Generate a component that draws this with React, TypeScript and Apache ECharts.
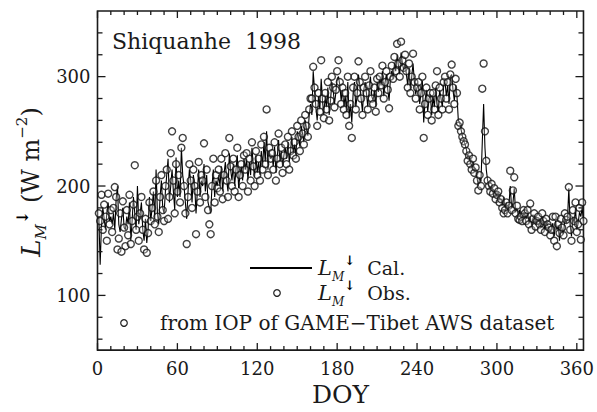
import React, { useEffect, useRef } from "react";
import * as echarts from "echarts";

// Observed downward longwave radiation (W m-2), DOY 1..365
const obsValues: number[] = [
  175,168,192,160,183,172,150,193,165,178,
  158,180,199,190,142,152,175,140,186,162,
  145,178,155,192,147,168,183,219,160,172,
  150,175,190,160,142,170,139,157,185,168,
  180,195,165,205,172,158,190,210,178,168,
  200,215,170,190,230,250,205,175,220,195,
  210,185,235,244,200,175,147,190,220,205,
  180,215,200,156,195,222,185,210,205,239,
  190,215,178,165,156,200,225,185,210,198,
  215,195,225,188,210,230,205,190,244,218,
  200,225,195,215,235,190,210,220,200,228,
  215,230,195,225,205,240,218,200,232,210,
  225,205,238,215,245,220,270,210,235,225,
  230,215,240,205,225,248,220,235,212,228,
  238,220,245,215,232,250,228,240,225,255,
  245,232,260,248,238,265,255,245,270,280,
  280,309,290,275,255,285,268,315,280,262,
  285,270,295,260,278,300,290,272,288,305,
  315,295,275,290,270,285,265,300,255,275,
  244,290,300,270,285,314,295,280,265,290,
  300,285,270,292,305,280,275,290,268,298,
  285,300,292,310,280,295,305,288,271,300,
  310,298,318,305,330,312,300,332,315,308,
  320,305,290,312,285,300,321,295,280,290,
  295,270,285,300,244,275,290,265,280,285,
  260,285,270,292,305,265,290,280,270,295,
  300,280,295,270,302,311,290,275,298,285,
  255,258,250,245,241,238,232,223,228,220,
  215,225,212,217,205,196,210,200,289,312,
  250,223,205,200,195,202,193,198,188,192,
  195,185,188,180,175,178,185,175,182,214,
  178,196,208,175,182,170,169,172,168,178,
  175,168,178,165,184,160,170,175,163,168,
  172,165,160,175,168,158,170,165,162,155,
  160,172,150,172,145,165,157,170,162,155,
  175,169,172,199,160,150,178,168,185,158,
  165,180,151,185,168,
];

// Calculated downward longwave radiation (W m-2), DOY 1..365
const calValues: number[] = [
  172,128,165,180,170,160,175,185,168,172,
  165,175,160,188,200,165,158,170,180,162,
  160,172,165,185,150,168,190,175,160,200,
  165,175,185,160,150,170,148,160,190,168,
  180,195,170,215,175,165,190,205,180,175,
  195,210,225,185,200,215,195,178,226,190,
  205,190,235,210,200,185,170,195,215,205,
  185,210,200,175,195,215,190,205,200,220,
  195,210,185,180,175,200,215,190,205,200,
  210,200,218,195,210,222,205,195,230,215,
  205,220,200,215,228,198,210,218,205,225,
  215,225,205,222,210,235,218,208,228,212,
  222,210,232,218,240,222,250,215,232,225,
  228,218,236,212,226,242,222,232,218,228,
  235,225,240,222,232,245,230,238,228,250,
  244,236,255,248,240,260,252,246,265,275,
  265,305,288,272,260,282,270,298,278,265,
  282,272,290,265,278,295,288,275,285,298,
  300,292,278,288,272,283,268,295,262,275,
  258,285,295,272,283,302,292,280,268,288,
  295,285,272,290,300,282,278,288,272,295,
  286,298,292,305,282,295,302,288,278,298,
  305,298,312,305,320,310,302,322,312,306,
  312,302,292,308,288,300,312,295,284,290,
  292,275,285,296,258,278,288,268,280,284,
  265,282,272,290,275,268,288,280,272,292,
  296,282,292,275,300,302,288,278,292,282,
  260,258,252,246,242,238,234,226,228,222,
  218,222,214,216,208,200,208,204,240,275,
  235,215,205,200,196,200,194,196,190,192,
  195,188,188,182,190,180,185,178,182,200,
  180,184,198,176,180,172,178,172,170,176,
  174,170,176,166,172,164,170,172,165,168,
  170,166,162,172,166,160,168,164,162,158,
  162,166,154,168,160,164,150,166,160,156,
  170,166,170,198,164,154,172,166,180,160,
  166,176,172,180,168,
];

const xLabelValues = [0, 60, 120, 180, 240, 300, 360];
const yLabelValues = [100, 200, 300];
const xTickDays = [0,10,20,30,40,50,60,70,80,90,100,110,120,130,140,150,160,170,180,190,200,210,220,230,240,250,260,270,280,290,300,310,320,330,340,350,360];
const yTickValues = [60,80,100,120,140,160,180,200,220,240,260,280,300,320,340];

const X_MIN = 0;
const X_MAX = 365;
const Y_MIN = 50;
const Y_MAX = 360;

const FONT = "'DejaVu Serif', 'Liberation Serif', serif";
const INK = "#1a1a1a";

export default function App() {
  const ref = useRef<HTMLDivElement>(null);

  useEffect(() => {
    document.body.style.margin = "0";
    if (!ref.current) return;
    const chart = echarts.init(ref.current, null, { renderer: "svg" });

    const obsData = obsValues.map((v, i) => [i + 1, v]);
    const calData = calValues.map((v, i) => [i + 1, v]);

    const richBase = (size: number) => {
      const sub = Math.round(size * 0.62);
      const sup = Math.round(size * 0.66);
      return {
        L: { fontFamily: FONT, fontStyle: "italic", fontSize: size + 2, lineHeight: size + 10, fill: INK, color: INK },
        sub: { fontFamily: FONT, fontStyle: "italic", fontSize: sub, verticalAlign: "bottom", lineHeight: sub, fill: INK, color: INK },
        sup: { fontFamily: FONT, fontWeight: "bold", fontSize: sup, verticalAlign: "top", lineHeight: sup, fill: "#000", color: "#000" },
        n: { fontFamily: FONT, fontSize: size, lineHeight: size + 10, fill: INK, color: INK },
        sup2: { fontFamily: FONT, fontSize: sub, verticalAlign: "top", lineHeight: sub, fill: INK, color: INK },
      };
    };

    const option: any = {
      animation: false,
      backgroundColor: "#ffffff",
      grid: {
        left: 97.5,
        right: 12,
        top: 11,
        bottom: 59,
        containLabel: false,
        show: true,
        borderColor: INK,
        borderWidth: 1.6,
        backgroundColor: "transparent",
      },
      xAxis: {
        type: "value",
        min: X_MIN,
        max: X_MAX,
        interval: 60,
        name: "DOY",
        nameLocation: "middle",
        nameGap: 29,
        nameTextStyle: { fontFamily: FONT, fontSize: 25, color: INK },
        axisLine: { show: false },
        axisTick: { show: false },
        splitLine: { show: false },
        axisLabel: {
          margin: 9,
          fontFamily: FONT,
          fontSize: 18,
          color: INK,
          formatter: (v: number) => (xLabelValues.indexOf(v) >= 0 ? String(v) : ""),
        },
      },
      yAxis: {
        type: "value",
        min: Y_MIN,
        max: Y_MAX,
        interval: 50,
        axisLine: { show: false },
        axisTick: { show: false },
        splitLine: { show: false },
        axisLabel: {
          margin: 7,
          fontFamily: FONT,
          fontSize: 18,
          color: INK,
          formatter: (v: number) => (yLabelValues.indexOf(v) >= 0 ? String(v) : ""),
        },
      },
      series: [
        {
          type: "line",
          name: "Cal",
          data: calData,
          showSymbol: false,
          lineStyle: { color: "#000", width: 1.1 },
          z: 2,
          silent: true,
        },
        {
          type: "scatter",
          name: "Obs",
          data: obsData,
          symbol: "circle",
          symbolSize: 7,
          itemStyle: { color: "rgba(255,255,255,0.35)", borderColor: "#111", borderWidth: 1.4 },
          z: 3,
          silent: true,
        },
        {
          type: "custom",
          name: "ticks",
          data: [[0, 100]],
          silent: true,
          clip: false,
          z: 5,
          renderItem: (params: any, api: any) => {
            const cs = params.coordSys;
            const top = cs.y;
            const bottom = cs.y + cs.height;
            const left = cs.x;
            const right = cs.x + cs.width;
            const children: any[] = [];
            const st = { stroke: INK, lineWidth: 1.3 };
            xTickDays.forEach((d) => {
              const px = api.coord([d, Y_MIN])[0];
              const len = d % 60 === 0 ? 7 : 4;
              children.push({ type: "line", shape: { x1: px, y1: bottom, x2: px, y2: bottom - len }, style: st });
              children.push({ type: "line", shape: { x1: px, y1: top, x2: px, y2: top + len }, style: st });
            });
            yTickValues.forEach((v) => {
              const py = api.coord([X_MIN, v])[1];
              const len = v % 100 === 0 ? 8 : 5;
              children.push({ type: "line", shape: { x1: left, y1: py, x2: left + len, y2: py }, style: st });
              children.push({ type: "line", shape: { x1: right, y1: py, x2: right - len, y2: py }, style: st });
            });
            return { type: "group", children };
          },
        },
      ],
      graphic: [
        {
          type: "text",
          x: 112,
          y: 41,
          style: {
            text: "Shiquanhe  1998",
            font: `22px ${FONT}`,
            fill: INK,
            textAlign: "left",
            textVerticalAlign: "middle",
          },
        },
        {
          type: "text",
          x: 31,
          y: 182,
          rotation: Math.PI / 2,
          style: {
            text: "{L|L}{sub|M}{sup|↓}{n| (W m}{sup2|−2}{n|)}",
            rich: richBase(24),
            fill: INK,
            textAlign: "center",
            textVerticalAlign: "middle",
          },
        },
        {
          type: "line",
          shape: { x1: 250, y1: 268, x2: 312, y2: 268 },
          style: { stroke: "#000", lineWidth: 2 },
        },
        {
          type: "text",
          x: 318,
          y: 268,
          style: {
            text: "{L|L}{sub|M}{sup|↓}{n|  Cal.}",
            rich: richBase(19),
            fill: INK,
            textAlign: "left",
            textVerticalAlign: "middle",
          },
        },
        {
          type: "circle",
          shape: { cx: 277, cy: 293, r: 3.3 },
          style: { fill: "none", stroke: "#222", lineWidth: 1.2 },
        },
        {
          type: "text",
          x: 318,
          y: 293,
          style: {
            text: "{L|L}{sub|M}{sup|↓}{n|  Obs.}",
            rich: richBase(19),
            fill: INK,
            textAlign: "left",
            textVerticalAlign: "middle",
          },
        },
        {
          type: "circle",
          shape: { cx: 124, cy: 323, r: 3.3 },
          style: { fill: "none", stroke: "#222", lineWidth: 1.2 },
        },
        {
          type: "text",
          x: 160,
          y: 323,
          style: {
            text: "from IOP of GAME−Tibet AWS dataset",
            font: `20px ${FONT}`,
            fill: INK,
            textAlign: "left",
            textVerticalAlign: "middle",
          },
        },
      ],
    };

    chart.setOption(option);
    return () => chart.dispose();
  }, []);

  return (
    <div
      ref={ref}
      style={{ position: "fixed", left: 0, top: 0, width: 597, height: 412, background: "#fff" }}
    />
  );
}
